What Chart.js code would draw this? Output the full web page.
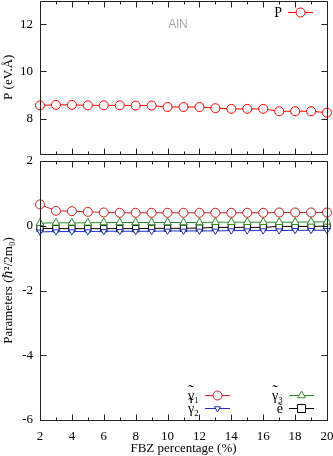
<!DOCTYPE html>
<html>
<head>
<meta charset="utf-8">
<script src="https://cdn.jsdelivr.net/npm/chart.js@4/dist/chart.umd.min.js"></script>
<style>
body { margin: 0; background: #fff; }
#wrap { position: relative; width: 333px; height: 456px; overflow: hidden; }
canvas { position: absolute; left: 0; }
</style>
</head>
<body>
<div id="wrap">
  <canvas id="paramChart" style="top:150px" width="333" height="306"></canvas>
  <canvas id="pChart" style="top:-5px" width="333" height="165"></canvas>
</div>
<script>
// FBZ percentage on x
const fbz = [2, 3, 4, 5, 6, 7, 8, 9, 10, 11, 12, 13, 14, 15, 16, 17, 18, 19, 20];

// top panel: P (eV.Å)
const pValues = [8.56, 8.58, 8.58, 8.56, 8.56, 8.56, 8.55, 8.55, 8.49, 8.49, 8.49, 8.44, 8.41, 8.41, 8.41, 8.31, 8.31, 8.31, 8.25];

// bottom panel: parameters (hbar^2/2m0)
const gamma1 = [0.66, 0.46, 0.45, 0.43, 0.41, 0.40, 0.40, 0.40, 0.40, 0.40, 0.40, 0.40, 0.40, 0.40, 0.40, 0.41, 0.41, 0.41, 0.41];
const gamma2 = [-0.19, -0.18, -0.18, -0.18, -0.17, -0.17, -0.17, -0.17, -0.16, -0.16, -0.16, -0.16, -0.15, -0.15, -0.15, -0.15, -0.14, -0.14, -0.14];
const gamma3 = [0.08, 0.09, 0.09, 0.09, 0.10, 0.10, 0.10, 0.10, 0.10, 0.10, 0.10, 0.11, 0.11, 0.11, 0.11, 0.11, 0.11, 0.12, 0.12];
const eTilde = [-0.08, -0.09, -0.09, -0.09, -0.09, -0.09, -0.09, -0.08, -0.08, -0.08, -0.07, -0.05, -0.05, -0.05, -0.05, -0.02, -0.02, -0.02, -0.01];

// tick labels
const fbzTicks = [2, 4, 6, 8, 10, 12, 14, 16, 18, 20];
const fbzMinor = [3, 5, 7, 9, 11, 13, 15, 17, 19];
const pTicks = [8, 10, 12];
const paramTicks = [-6, -4, -2, 0, 2];

const serif = '"Liberation Serif", "DejaVu Serif", serif';
const pts = vals => vals.map((v, i) => ({ x: fbz[i], y: v }));

// gnuplot style frame with inward ticks on all four sides
const frameTicks = {
  id: 'frameTicks',
  afterDatasetsDraw(chart) {
    const { ctx, chartArea: a, scales: { x, y } } = chart;
    ctx.save();
    ctx.strokeStyle = '#222';
    ctx.lineWidth = 1;
    ctx.beginPath();
    const L = Math.round(a.left) + 0.5, R = Math.round(a.right) + 0.5;
    const T = Math.round(a.top) + 0.5, B = Math.round(a.bottom) + 0.5;
    ctx.rect(L, T, R - L, B - T);
    const xt = (v, len) => {
      const px = Math.round(x.getPixelForValue(v)) + 0.5;
      ctx.moveTo(px, B); ctx.lineTo(px, B - len);
      ctx.moveTo(px, T); ctx.lineTo(px, T + len);
    };
    x.ticks.forEach(t => xt(t.value, 6));
    fbzMinor.forEach(v => xt(v, 3));
    y.ticks.forEach(t => {
      const py = Math.round(y.getPixelForValue(t.value)) + 0.5;
      ctx.moveTo(L, py); ctx.lineTo(L + 6, py);
      ctx.moveTo(R, py); ctx.lineTo(R - 6, py);
    });
    ctx.stroke();
    ctx.restore();
  }
};

function marker(ctx, style, rot, r, cx, cy) {
  ctx.beginPath();
  if (style === 'rect') {
    ctx.rect(cx - r * 0.9, cy - r * 0.9, r * 1.8, r * 1.8);
  } else if (style === 'triangle') {
    const s = rot ? -1 : 1;
    ctx.moveTo(cx, cy - s * r);
    ctx.lineTo(cx + r * 0.87, cy + s * r * 0.5);
    ctx.lineTo(cx - r * 0.87, cy + s * r * 0.5);
    ctx.closePath();
  } else {
    ctx.arc(cx, cy, r, 0, Math.PI * 2);
  }
  ctx.fill();
  ctx.stroke();
}

// key drawn like gnuplot: text, then line sample with marker
const keyBox = {
  id: 'keyBox',
  afterDraw(chart, args, opts) {
    const ctx = chart.ctx;
    ctx.save();
    if (opts.note) {
      ctx.font = '12px "Liberation Sans", sans-serif';
      ctx.fillStyle = '#aaa';
      ctx.textAlign = 'center';
      ctx.textBaseline = 'middle';
      ctx.fillText(opts.note.text, opts.note.x, opts.note.y);
    }
    (opts.items || []).forEach(it => {
      const ds = chart.data.datasets[it.index];
      ctx.font = '14px ' + serif;
      ctx.fillStyle = '#000';
      ctx.textAlign = 'left';
      ctx.textBaseline = 'middle';
      // combining tilde is placed by hand over the first glyph
      const hasTilde = ds.label.indexOf('\u0303') >= 0;
      const text = ds.label.replace('\u0303', '');
      const w = ctx.measureText(text).width;
      const x0 = it.x - w;
      ctx.fillText(text, x0, it.y + 1);
      if (hasTilde) {
        const cw = ctx.measureText(text[0]).width;
        ctx.font = '17px ' + serif;
        ctx.textAlign = 'center';
        ctx.fillText('\u02DC', x0 + cw / 2, it.y - 3);
      }
      ctx.strokeStyle = ds.borderColor;
      ctx.lineWidth = 1;
      ctx.beginPath();
      ctx.moveTo(it.x + 6, it.y + 0.5);
      ctx.lineTo(it.x + 31, it.y + 0.5);
      ctx.stroke();
      ctx.fillStyle = '#fff';
      marker(ctx, ds.pointStyle, ds.pointRotation, ds.pointRadius, it.x + 18.5, it.y + 0.5);
    });
    ctx.restore();
  }
};

function series(label, data, color, style, radius, rotation) {
  return {
    label: label,
    data: pts(data),
    borderColor: color,
    backgroundColor: color,
    pointBackgroundColor: '#fff',
    pointBorderColor: color,
    borderWidth: 1,
    pointBorderWidth: 1,
    pointStyle: style,
    pointRadius: radius,
    pointRotation: rotation || 0,
    pointHoverRadius: radius,
    clip: false
  };
}

function xScale(showLabels, withTitle) {
  return {
    type: 'linear', min: 2, max: 20,
    grid: { display: false, drawTicks: false },
    border: { display: false },
    afterBuildTicks: s => { s.ticks = fbzTicks.map(v => ({ value: v })); },
    afterFit: s => { s.height = showLabels ? 36 : 0; s.paddingLeft = 0; s.paddingRight = 0; },
    ticks: { display: showLabels, padding: 9, color: '#000', font: { family: serif, size: 13 } },
    title: { display: withTitle, text: 'FBZ percentage (%)', color: '#000', padding: { top: 0, bottom: 0 }, font: { family: serif, size: 13 } }
  };
}

function yScale(min, max, tickVals, title) {
  return {
    min: min, max: max,
    grid: { display: false, drawTicks: false },
    border: { display: false },
    afterBuildTicks: s => { s.ticks = tickVals.map(v => ({ value: v })); },
    afterFit: s => { s.width = 40; s.paddingTop = 0; s.paddingBottom = 0; },
    ticks: { padding: 7, color: '#000', font: { family: serif, size: 13 } },
    title: { display: true, text: title, color: '#000', padding: { top: 1, bottom: 0 }, font: { family: serif, size: 13 } }
  };
}

const common = {
  responsive: false,
  devicePixelRatio: 1,
  animation: false,
  plugins: { legend: { display: false }, tooltip: { enabled: false } }
};

new Chart(document.getElementById('pChart'), {
  type: 'line',
  data: { datasets: [series('P', pValues, '#ff0000', 'circle', 4.5)] },
  options: Object.assign({}, common, {
    layout: { padding: { top: 1, right: 6, bottom: 6, left: 0 } },
    scales: { x: xScale(false, false), y: yScale(6.5, 13, pTicks, 'P (eV.Å)') },
    plugins: Object.assign({}, common.plugins, {
      keyBox: { note: { text: 'AlN', x: 178, y: 30 }, items: [{ index: 0, x: 282, y: 17 }] }
    })
  }),
  plugins: [frameTicks, keyBox]
});

new Chart(document.getElementById('paramChart'), {
  type: 'line',
  data: {
    datasets: [
      series('γ̃₁', gamma1, '#c8201e', 'circle', 4.5),
      series('γ̃₂', gamma2, '#1f2fbf', 'triangle', 3.5, 180),
      series('γ̃₃', gamma3, '#2a8a2a', 'triangle', 4.5),
      series('ẽ', eTilde, '#000000', 'rect', 4.5)
    ]
  },
  options: Object.assign({}, common, {
    layout: { padding: { top: 11, right: 6, bottom: 0, left: 0 } },
    scales: { x: xScale(true, true), y: yScale(-6, 2, paramTicks, 'Parameters (ℏ²/2m₀)') },
    plugins: Object.assign({}, common.plugins, {
      keyBox: { items: [
        { index: 0, x: 199, y: 245 },
        { index: 1, x: 199, y: 258 },
        { index: 2, x: 283, y: 245 },
        { index: 3, x: 283, y: 258 }
      ] }
    })
  }),
  plugins: [frameTicks, keyBox]
});
</script>
</body>
</html>
